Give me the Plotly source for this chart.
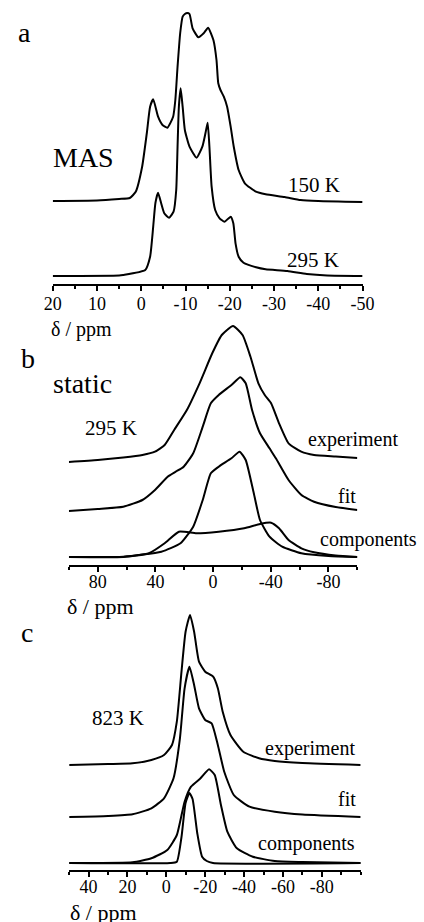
import plotly.graph_objects as go

W, H = 424, 922
FONT = "Liberation Serif"

# ---------------- Panel a: MAS spectra (ppm, intensity a.u.) ----------------
a_150K_ppm = [20, 10, 5, 2.6, 1.25, -0.2, -1.26, -2.0, -2.7, -3.8, -4.8, -5.9, -7.2, -7.7, -8.2, -8.8,
              -9.35, -9.85, -10.4, -10.9, -11.6, -12.9, -14.1, -15.1, -16.3, -17.0, -17.4, -17.9, -18.65,
              -19.4, -20.2, -20.9, -22.0, -23.4, -25.9, -28.1, -32.4, -36, -40, -50]
a_150K_int = [0, 0.5, 2, 3, 9.3, 34.3, 68, 94.3, 101.7, 84.3, 76, 73.3, 84.3, 101, 134.3, 168,
              184.3, 187, 188, 187, 172.7, 163.7, 167.7, 173.3, 161, 141, 117.7, 111, 104.3,
              94.3, 74.3, 54.3, 31, 17.7, 9.3, 6.7, 4, 1, 0, -1]

a_295K_ppm = [20, 5, 4.1, -0.9, -2.0, -2.7, -3.2, -3.8, -4.5, -5.2, -6.3, -7.3, -7.9, -8.2, -8.5, -8.9,
              -9.35, -9.85, -10.9, -12.5, -13.8, -14.5, -15.0, -15.4, -15.9, -16.7, -17.7, -18.8, -20.2,
              -20.8, -21.3, -22.0, -23.1, -25.95, -28.1, -33, -37.4, -42, -50]
a_295K_int = [0, 0.5, 1, 6, 19.3, 49.3, 73, 83.3, 72.7, 62.7, 58.3, 64.3, 86, 129.3, 169.3, 187.7,
              169.3, 146, 129.3, 118.3, 129.3, 142.7, 153.3, 129.3, 89.3, 66, 57.7, 54.3, 59.3,
              52.7, 32.7, 19.3, 13.3, 8.7, 6.7, 5, 2, 0.5, 0]
a_offsets = {"150K": 83, "295K": 8}

# ---------------- Panel b: static 295 K ----------------
b_exp_ppm = [100, 80, 62.3, 49, 40.3, 33.6, 27, 18.2, 9.4, 0.6, -6.0, -13.8, -20.4, -25.9, -31.4,
             -35.8, -40.2, -45.7, -52.3, -61.1, -70, -85, -100]
b_exp_int = [0, 2, 4.5, 7, 10.3, 17, 32, 52, 78.7, 108.7, 127, 136, 127, 105.3, 78.7,
             67, 58.7, 38.7, 18.7, 10.3, 7, 5.5, 4]
b_fit_ppm = [100, 80, 62.3, 49, 40.3, 31.5, 25.9, 20.4, 13.8, 7.2, 1.6, -3.9, -12.7, -18.9, -22.6,
             -27, -32.5, -39.1, -43.5, -52.3, -61.2, -70, -85, -100]
b_fit_int = [0, 2, 4.3, 11, 21, 34.3, 39.3, 44.3, 57.7, 84.3, 107.7, 116, 126, 133.7, 127.7,
             101, 77.7, 62.7, 52.7, 31, 16, 9.3, 4, 1]
b_comp1_ppm = [100, 62.3, 35.9, 22.6, 13.8, 7.2, 1.6, -3.9, -12.7, -18.3, -22.6, -28.2, -32.5,
               -39.1, -47.9, -61.2, -80, -100]
b_comp1_int = [0, 0.3, 5.3, 13.7, 30.3, 57, 83.7, 90.3, 98.7, 105.3, 97, 63.7, 37,
               20.3, 10.3, 3.7, 1, 0]
b_comp2_ppm = [100, 62.3, 44.5, 33.6, 23.7, 11.5, -3.9, -21.5, -32.5, -40.2, -45.7, -52.3, -61.2,
               -70, -85, -100]
b_comp2_int = [0, 0, 3.7, 13.7, 25.3, 23.7, 25.3, 28.7, 33, 34.3, 28.7, 17, 8.7,
               4.7, 1.5, 0]
b_offsets = {"experiment": 103, "fit": 54, "components": 8}

# ---------------- Panel c: 823 K ----------------
c_exp_ppm = [50, 30, 17.4, 7.7, 1.2, -2.9, -5.4, -7.8, -9.9, -12.2, -14.3, -16.8, -20, -24.1,
             -26.5, -29, -33, -39.6, -47.7, -55.8, -70, -100]
c_exp_int = [0, 1, 1.7, 5, 10, 20, 43.3, 93.3, 133.3, 150, 133.3, 103.3, 93.3, 88.3,
             76.7, 53.3, 30, 13.3, 6.7, 4, 2, 0]
c_fit_ppm = [50, 30, 17.4, 7.7, 1.2, -3.7, -7, -9.4, -11.9, -14.3, -16.8, -20, -23.3, -26.5,
             -29.8, -34.7, -42.8, -55.8, -70, -100]
c_fit_int = [0, 1, 2.7, 8.7, 18.7, 38.7, 78.7, 128.7, 150.3, 132, 108.7, 97, 93.7, 72,
             45.3, 22, 10.3, 5.3, 2.5, 0]
c_comp1_ppm = [50, -2, -5.4, -7.8, -9.9, -11.9, -13.5, -15.9, -18.4, -20.8, -24, -100]
c_comp1_int = [0, 0, 1.3, 26, 60, 70, 64, 30, 6.3, 2, 0, 0]
c_comp2_ppm = [50, 17.4, 7.7, -0.5, -5.4, -9.4, -12.7, -17.6, -22, -24.9, -28.1, -31.4, -36.3,
               -44.5, -55.8, -70, -100]
c_comp2_int = [0, 0.7, 4.7, 13, 28, 61.3, 76.3, 84.7, 93.7, 88, 58, 31.3, 14.7,
               6.3, 2, 1, 0]
c_offsets = {"experiment": 105, "fit": 53, "components": 7}

# tick definitions
a_major = [20, 10, 0, -10, -20, -30, -40, -50]
a_minor = [15, 5, -5, -15, -25, -35, -45]
b_major = [80, 40, 0, -40, -80]
b_minor = [100, 60, 20, -20, -60, -100]
c_major = [40, 20, 0, -20, -40, -60, -80]
c_minor = [50, 30, 10, -10, -30, -50, -70, -90, -100]


def lab(v):
    return str(v)


# ---------------- layout geometry (pixels) ----------------
panels = {
    "a": dict(x0=46, x1=372, axis=284, top=5, rng=[20, -50], standoff=-3),
    "b": dict(x0=63, x1=366.5, axis=565, top=318, rng=[100, -100], standoff=-6),
    "c": dict(x0=63.3, x1=370, axis=870, top=605, rng=[50, -100], standoff=-6),
}

fig = go.Figure()
LINE = dict(color="black", width=2, shape="spline", smoothing=0.5)


def add(ppm, inten, off, ax):
    fig.add_trace(go.Scatter(x=ppm, y=[v + off for v in inten], mode="lines", line=LINE,
                             xaxis="x" + ax, yaxis="y" + ax, showlegend=False, hoverinfo="skip"))


add(a_150K_ppm, a_150K_int, a_offsets["150K"], "")
add(a_295K_ppm, a_295K_int, a_offsets["295K"], "")
add(b_exp_ppm, b_exp_int, b_offsets["experiment"], "2")
add(b_fit_ppm, b_fit_int, b_offsets["fit"], "2")
add(b_comp1_ppm, b_comp1_int, b_offsets["components"], "2")
add(b_comp2_ppm, b_comp2_int, b_offsets["components"], "2")
add(c_exp_ppm, c_exp_int, c_offsets["experiment"], "3")
add(c_fit_ppm, c_fit_int, c_offsets["fit"], "3")
add(c_comp1_ppm, c_comp1_int, c_offsets["components"], "3")
add(c_comp2_ppm, c_comp2_int, c_offsets["components"], "3")

layout = dict(width=W, height=H, margin=dict(l=0, r=0, t=0, b=0),
              paper_bgcolor="white", plot_bgcolor="white", showlegend=False,
              font=dict(family=FONT, color="black"))

for i, (key, major, minor) in enumerate([("a", a_major, a_minor), ("b", b_major, b_minor),
                                          ("c", c_major, c_minor)]):
    p = panels[key]
    sfx = "" if i == 0 else str(i + 1)
    layout["xaxis" + sfx] = dict(
        domain=[p["x0"] / W, p["x1"] / W], range=p["rng"], anchor="y" + sfx,
        showline=True, linecolor="black", linewidth=2, showgrid=False, zeroline=False,
        ticks="outside", ticklen=5, tickwidth=1.5, tickcolor="black",
        tickvals=major, ticktext=[lab(v) for v in major],
        tickfont=dict(family=FONT, size=18, color="black"), ticklabelstandoff=p["standoff"],
        minor=dict(tickvals=minor, ticks="outside", ticklen=3, tickwidth=1.5, tickcolor="black"),
        fixedrange=True,
    )
    layout["yaxis" + sfx] = dict(
        domain=[1 - p["axis"] / H, 1 - p["top"] / H], range=[0, p["axis"] - p["top"]],
        visible=False, fixedrange=True, anchor="x" + sfx,
    )

ann = []


def text(t, x, baseline, fs):
    ann.append(dict(text=t, x=x / W, y=1 - (baseline - 0.34 * fs) / H, xref="paper", yref="paper",
                    xanchor="left", yanchor="middle", showarrow=False,
                    font=dict(family=FONT, size=fs, color="black")))


text("a", 7, 42, 28)
text("MAS", 44, 166.7, 28)
text("150 K", 291, 192.3, 21)
text("295 K", 290, 266.7, 21)
text("δ / ppm", 42, 336, 20)
text("b", 11, 368, 28)
text("static", 44, 393.3, 28)
text("295 K", 78, 435, 21)
text("experiment", 312, 446.7, 20)
text("fit", 344, 502.3, 20)
text("components", 325, 546.7, 20)
text("δ / ppm", 59, 614.3, 22)
text("c", 11, 641.7, 28)
text("823 K", 85, 725, 21)
text("experiment", 267, 755, 20)
text("fit", 344, 806, 20)
text("components", 260, 850.7, 20)
text("δ / ppm", 62, 920, 22)

layout["annotations"] = ann
fig.update_layout(**layout)
fig.write_html("out.html")
